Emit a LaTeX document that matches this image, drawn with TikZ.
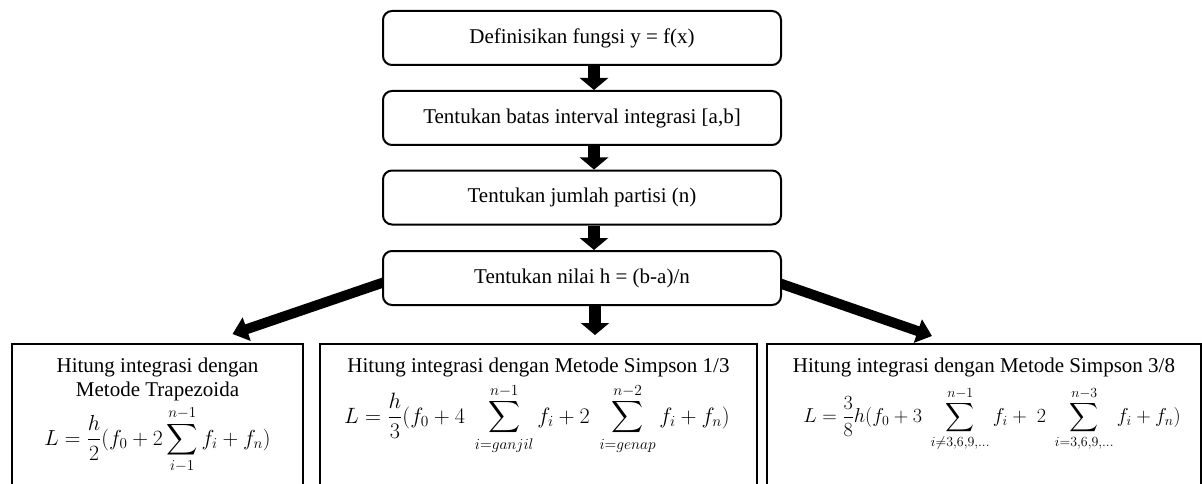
\documentclass[tikz,border=0pt]{standalone}
\usepackage{amsmath}
\usepackage{graphicx}
\usepackage{fontspec}
\setmainfont{Liberation Serif}
\usetikzlibrary{arrows.meta,calc}
\pgfdeclarelayer{bg}
\pgfsetlayers{bg,main}
\begin{document}
\begin{tikzpicture}[x=1pt,y=-1pt,
  txt/.style={inner sep=0pt, align=center, font=\fontsize{21}{24}\selectfont},
  rbox/.style={draw, line width=2pt, rounded corners=9pt, fill=white,
    minimum width=398pt, minimum height=54pt, inner sep=0pt,
    font=\fontsize{21}{24}\selectfont},
  sbox/.style={draw, line width=2pt, fill=white, inner sep=0pt, anchor=north,
    minimum height=160pt},
  fml/.style={inner sep=0pt, font=\fontsize{21}{24}\selectfont},
  varrow/.style={line width=12pt, -{Triangle[width=28pt,length=12pt]}},
  darrow/.style={line width=10pt, -{Triangle[width=24pt,length=15pt]}}]
\useasboundingbox (0,0) rectangle (1202,484);

\node[rbox] (b1) at (582,38)    {Definisikan fungsi y = f(x)};
\node[rbox] (b2) at (582,118)   {Tentukan batas interval integrasi [a,b]};
\node[rbox] (b3) at (582,197.5) {Tentukan jumlah partisi (n)};
\node[rbox] (b4) at (582,278)   {Tentukan nilai h = (b-a)/n};

\node[sbox, minimum width=291pt] (r1) at (157.5,343) {};
\node[sbox, minimum width=437pt] (r2) at (538.5,343) {};
\node[sbox, minimum width=434pt] (r3) at (984,343) {};

\node[txt, anchor=north] (r1t) at ([yshift=-15pt]r1.north) {Hitung integrasi dengan\\Metode Trapezoida};
\node[txt, anchor=north] (r2t) at ([yshift=-15pt]r2.north) {Hitung integrasi dengan Metode Simpson 1/3};
\node[txt, anchor=north] (r3t) at ([yshift=-15pt]r3.north) {Hitung integrasi dengan Metode Simpson 3/8};

\node[fml] (r1f) at (157.5,440)
  {\scalebox{1.05}{$\displaystyle L=\frac{h}{2}(f_0+2\sum\limits_{i-1}^{n-1}f_i+f_n)$}};
\node[fml] (r2f) at (537,419)
  {\scalebox{1.07}{$\displaystyle L=\frac{h}{3}(f_0+4\;\sum\limits_{i=ganjil}^{n-1}f_i+2\;\sum\limits_{i=genap}^{n-2}f_i+f_n)$}};
\node[fml] (r3f) at (992,419)
  {\scalebox{0.97}{$\displaystyle L=\frac{3}{8}h(f_0+3\;\sum\limits_{i\neq3,6,9,\dots}^{n-1}f_i+\;2\;\sum\limits_{i=3,6,9,\dots}^{n-3}f_i+f_n)$}};

\coordinate (t2) at ([xshift=13pt]b4.south |- r2.north);

\begin{pgfonlayer}{bg}
\draw[varrow] ([xshift=12pt]b1.south) -- ([xshift=12pt]b2.north);
\draw[varrow] ([xshift=12pt]b2.south) -- ([xshift=12pt]b3.north);
\draw[varrow] ([xshift=12pt]b3.south) -- ([xshift=12pt]b4.north);
\draw[varrow] ([xshift=13pt]b4.south) -- ([yshift=8pt]t2);
\draw[darrow] ([xshift=9.5pt,yshift=-1.7pt]b4.west) -- ([xshift=75pt,yshift=9pt]r1.north);
\draw[darrow] ([xshift=-9.5pt,yshift=-2.8pt]b4.east) -- ([xshift=-52pt,yshift=7pt]r3.north);
\end{pgfonlayer}
\end{tikzpicture}
\end{document}
